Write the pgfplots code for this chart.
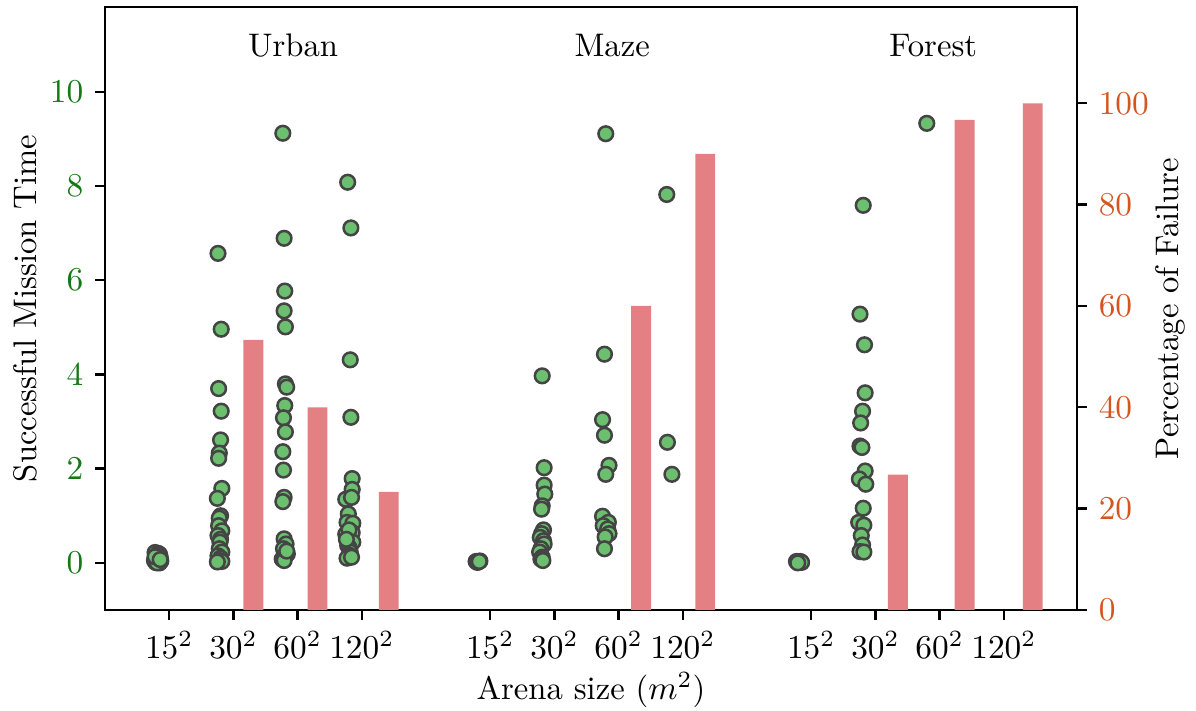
\documentclass[border=0pt]{standalone}
\usepackage{pgfplots}
\pgfplotsset{compat=1.18}
\definecolor{ptfill}{RGB}{107,191,111}
\definecolor{ptedge}{RGB}{68,68,68}
\definecolor{barc}{RGB}{228,128,131}
\definecolor{lefttick}{RGB}{20,120,20}
\definecolor{righttick}{RGB}{214,84,30}
\pgfplotsset{
  common/.style={
    at={(0,0)}, anchor=south west, scale only axis,
    width=291.6pt, height=180.9pt,
    xmin=-1, xmax=14.14,
    tick align=outside, major tick length=3pt,
    every tick/.style={line width=0.7pt, black},
    axis line style={line width=0.75pt},
    tick label style={font=\fontsize{9.8}{11.8}\selectfont},
    label style={font=\fontsize{9.8}{11.8}\selectfont},
  }
}
\begin{document}
\begin{tikzpicture}[x=1pt,y=1pt,font=\fontsize{9.8}{11.8}\selectfont]
\path[use as bounding box] (-31.5,-30.3) rectangle (327.3,183);
\begin{axis}[common,
  ymin=-1, ymax=11.8,
  xtick={0,1,2,3,5,6,7,8,10,11,12,13},
  xticklabels={$15^2$,$30^2$,$60^2$,$120^2$,$15^2$,$30^2$,$60^2$,$120^2$,$15^2$,$30^2$,$60^2$,$120^2$},
  ytick={0,2,4,6,8,10},
  xtick pos=left, ytick pos=left,
  yticklabel style={text=lefttick},
  xlabel={Arena size ($m^2$)},
  ylabel={Successful Mission Time},
  xlabel style={at={(axis description cs:0.5,-0.1327)}, anchor=center},
  ylabel style={at={(axis description cs:-0.082,0.5)}, anchor=center},
  clip=false,
]
\addplot[only marks, mark=*, mark size=2.2pt, mark options={fill=ptfill, draw=ptedge, line width=0.75pt}] table {
x y
-0.22 0.22
-0.17 0.20
-0.15 0.18
-0.20 0.15
-0.14 0.12
-0.21 0.10
-0.18 0.08
-0.16 0.06
-0.23 0.05
-0.13 0.04
-0.19 0.03
-0.17 0.02
-0.21 0.01
-0.15 0.00
-0.19 0.00
-0.22 0.13
-0.14 0.07
0.76 6.57
0.81 4.96
0.77 3.70
0.81 3.22
0.80 2.61
0.78 2.33
0.77 2.22
0.82 1.58
0.75 1.37
0.80 1.00
0.78 0.95
0.77 0.79
0.82 0.68
0.76 0.58
0.80 0.50
0.79 0.44
0.78 0.30
0.82 0.23
0.76 0.15
0.80 0.10
0.78 0.05
0.82 0.03
0.75 0.02
1.77 9.12
1.79 6.89
1.80 5.77
1.79 5.35
1.81 5.01
1.81 3.80
1.83 3.73
1.80 3.34
1.78 3.08
1.81 2.78
1.77 2.36
1.78 1.97
1.79 1.39
1.77 1.30
1.79 0.51
1.82 0.40
1.78 0.30
1.84 0.19
1.76 0.08
1.81 0.15
1.79 0.05
1.83 0.25
2.78 8.08
2.83 7.11
2.82 4.31
2.83 3.09
2.85 1.79
2.85 1.56
2.75 1.35
2.84 1.39
2.79 1.04
2.77 0.86
2.86 0.84
2.75 0.61
2.85 0.64
2.78 0.37
2.86 0.44
2.80 0.33
2.82 0.23
2.81 0.16
2.77 0.10
2.84 0.12
2.80 0.70
2.76 0.50
4.78 0.03
4.81 0.02
4.84 0.04
4.80 0.01
4.83 0.03
5.81 3.97
5.84 2.02
5.84 1.65
5.85 1.46
5.81 1.21
5.80 1.14
5.83 0.70
5.80 0.62
5.78 0.54
5.83 0.47
5.84 0.40
5.79 0.30
5.77 0.23
5.81 0.12
5.79 0.08
5.82 0.05
6.80 9.11
6.78 4.43
6.75 3.04
6.78 2.71
6.85 2.07
6.80 1.88
6.75 0.99
6.84 0.86
6.76 0.79
6.83 0.72
6.85 0.62
6.79 0.55
6.78 0.30
7.75 7.82
7.76 2.56
7.83 1.88
9.77 0.03
9.80 0.02
9.83 0.03
9.85 0.01
9.79 0.00
10.81 7.59
10.76 5.28
10.83 4.63
10.84 3.61
10.80 3.22
10.77 2.97
10.76 2.48
10.79 2.45
10.84 1.95
10.75 1.78
10.85 1.67
10.81 1.16
10.74 0.86
10.82 0.80
10.78 0.58
10.80 0.38
10.76 0.24
10.82 0.23
11.80 9.33
};
\node[anchor=center] at (axis cs:1.93,10.98) {Urban};
\node[anchor=center] at (axis cs:6.90,10.98) {Maze};
\node[anchor=center] at (axis cs:11.90,10.98) {Forest};
\end{axis}
\begin{axis}[common,
  ymin=0, ymax=119,
  axis x line=none, axis y line*=right,
  ytick={0,20,40,60,80,100},
  yticklabel style={text=righttick},
  ylabel={Percentage of Failure},
  ylabel style={at={(axis description cs:1.0957,0.5)}, anchor=center},
]
\addplot[ybar, bar width=0.31, fill=barc, draw=none] coordinates {
(1.31,53.3) (2.31,40) (3.42,23.3) (7.35,60) (8.35,90) (11.35,26.7) (12.39,96.7) (13.45,100)
};
\end{axis}
\end{tikzpicture}
\end{document}
